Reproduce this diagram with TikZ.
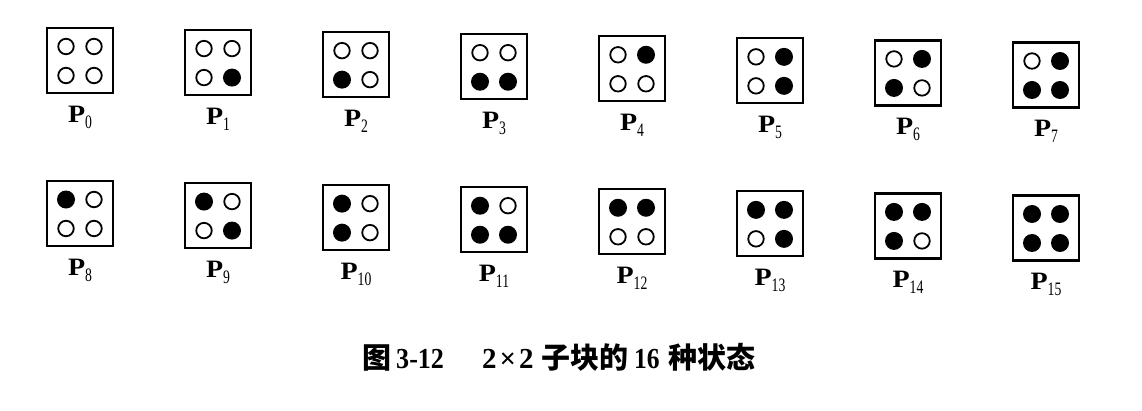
\documentclass[tikz,border=0pt]{standalone}
\usepackage{fontspec}
\usepackage{graphicx}
\setmainfont{Liberation Serif}
\newfontfamily\cjk{Noto Sans CJK SC}
\newcommand\subdig[1]{\raisebox{-6pt}{\scalebox{0.72}[1]{\fontsize{19}{19}\selectfont\mdseries #1}}}
\begin{document}
\begin{tikzpicture}[x=1pt,y=-1pt,
  cell/.style={draw, line width=2.2pt, minimum width=66pt, minimum height=65pt, inner sep=0pt},
  s1/.style={circle, fill=black, minimum size=18pt, inner sep=0pt},
  s0/.style={circle, draw, line width=1.8pt, minimum size=15.5pt, inner sep=0pt},
  lab/.style={anchor=base, inner sep=0pt, font=\fontsize{25}{25}\selectfont\bfseries},
  capcjk/.style={anchor=base west, inner sep=0pt, font=\fontsize{29}{29}\selectfont\cjk\bfseries},
  caplat/.style={anchor=base west, inner sep=0pt, font=\fontsize{29}{29}\selectfont\bfseries}]
\useasboundingbox (0,0) rectangle (1142,410);
\foreach \n in {0,...,15} {
  \pgfmathtruncatemacro\row{\n>7 ? 1 : 0}
  \pgfmathtruncatemacro\col{mod(\n,8)}
  \pgfmathsetmacro\cx{80+\col*138}
  \pgfmathsetmacro\cy{60.5+\row*153+(\cx-80)*0.015}
  \pgfmathtruncatemacro\bTL{mod(floor(\n/8),2)}
  \pgfmathtruncatemacro\bTR{mod(floor(\n/4),2)}
  \pgfmathtruncatemacro\bBL{mod(floor(\n/2),2)}
  \pgfmathtruncatemacro\bBR{mod(\n,2)}
  \node[cell] (b\n) at (\cx,\cy) {};
  \node[s\bTL] (tl\n) at ([shift={(-14,-14)}]b\n.center) {};
  \node[s\bTR] (tr\n) at ([shift={(14,-14)}]b\n.center) {};
  \node[s\bBL] (bl\n) at ([shift={(-14,15)}]b\n.center) {};
  \node[s\bBR] (br\n) at ([shift={(14,15)}]b\n.center) {};
  \node[lab] (l\n) at (\cx,\cy+61.5) {\scalebox{1.12}[1]{P}\subdig{\n}};
}
\node[capcjk] (c1) at (362,368) {图};
\node[caplat] (c2) at (396,368) {\scalebox{0.9}[1]{3-12}};
\node[caplat] (c3) at (482,368) {2\kern3pt×\kern3pt2};
\node[capcjk] (c4) at (541,368) {子块的};
\node[caplat] (c5) at (634,368) {\scalebox{0.88}[1]{16}};
\node[capcjk] (c6) at (668,368) {种状态};
\end{tikzpicture}
\end{document}
